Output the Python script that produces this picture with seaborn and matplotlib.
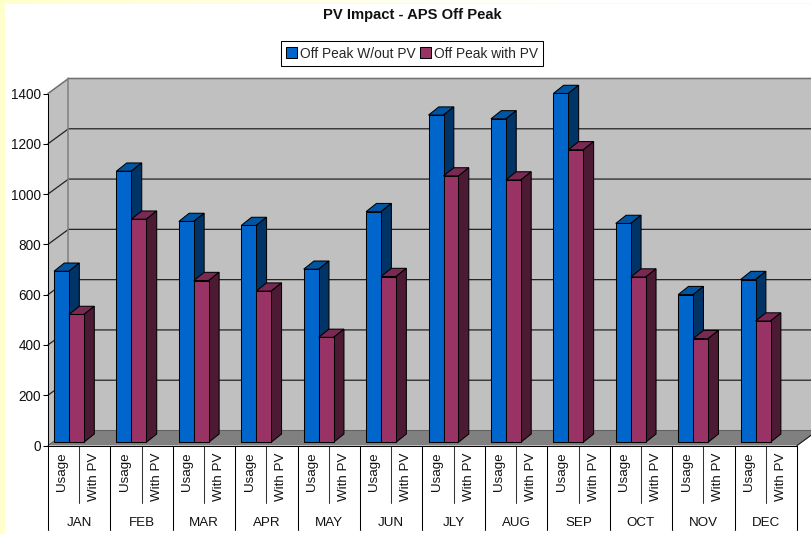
import numpy as np
import pandas as pd
import matplotlib
matplotlib.use('Agg')
import matplotlib.pyplot as plt
import seaborn as sns
from matplotlib.patches import Rectangle

# Off peak usage by month
months = ['JAN', 'FEB', 'MAR', 'APR', 'MAY', 'JUN', 'JLY', 'AUG', 'SEP', 'OCT', 'NOV', 'DEC']
usage = [680, 1078, 878, 862, 688, 917, 1301, 1286, 1387, 870, 587, 647]
with_pv = [508, 887, 643, 601, 417, 659, 1059, 1043, 1163, 657, 412, 482]
series_names = ['Off Peak W/out PV', 'Off Peak with PV']
y_ticks = [0, 200, 400, 600, 800, 1000, 1200, 1400]

W, H = 812, 534
X0, X1, Y0, Y1 = 48.0, 797.0, 445.5, 93.5
PX = 12.0 / (X1 - X0)       # data units per pixel, x
PY = 1400.0 / (Y0 - Y1)     # data units per pixel, y
LW = 0.75                   # about one pixel

# front, top, side colours of the fake 3d bars
BLUE = ('#0066CC', '#0055A3', '#003366')
PLUM = ('#993366', '#7A2952', '#4D1A33')

sns.set_theme(style='white')
plt.rcParams['font.family'] = ['Liberation Sans', 'DejaVu Sans']

df = pd.DataFrame({
    'month': months * 2,
    'value': usage + with_pv,
    'series': [series_names[0]] * 12 + [series_names[1]] * 12,
})

fig = plt.figure(figsize=(W / 100, H / 100), dpi=100, facecolor='#FFFFCC')

# pale yellow frame on the left and along the top, fading out to the right
bg = fig.add_axes([0, 0, 1, 1], zorder=-1)
bg.axis('off')
fade = np.ones((1, 200, 3))
fade[0, :, 2] = np.clip(np.linspace(0.8, 1.08, 200), 0, 1)
bg.imshow(fade, extent=(0, W, H - 3.5, H), aspect='auto')
bg.add_patch(Rectangle((5, 0), W, H - 3.5, color='white', lw=0))
bg.add_patch(Rectangle((0, 0), 5, H, color='#FFFFCC', lw=0))
bg.set_xlim(0, W)
bg.set_ylim(0, H)

ax = fig.add_axes([X0 / W, (H - Y0) / H, (X1 - X0) / W, (Y0 - Y1) / H])
ax.patch.set_alpha(0)

sns.barplot(data=df, x='month', y='value', hue='series', order=months,
            hue_order=series_names, palette=[BLUE[0], PLUM[0]], saturation=1,
            width=0.48, gap=0, edgecolor='black', linewidth=LW, ax=ax)

ax.set_xlim(-0.5, 11.5)
ax.set_ylim(0, 1400)

# walls and floor
dx, dy = 20.5 * PX, 15 * PY
xl, xr = -0.5, 11.5
ax.fill([xl + dx, xr + dx, xr + dx, xl + dx], [dy, dy, 1400 + dy, 1400 + dy],
        color='#C0C0C0', lw=0, clip_on=False, zorder=1)
ax.fill([xl, xl + dx, xl + dx, xl], [0, dy, 1400 + dy, 1400],
        color='#C0C0C0', lw=0, clip_on=False, zorder=1)
ax.fill([xl, xl + dx, xr + dx, xr], [0, dy, dy, 0],
        color='#808080', lw=0, clip_on=False, zorder=1)
for t in y_ticks[1:-1]:
    ax.plot([xl, xl + dx, xr + dx], [t, t + dy, t + dy], color='#222222', lw=0.9,
            clip_on=False, zorder=2)
ax.plot([xl, xl + dx, xr + dx], [1400, 1400 + dy, 1400 + dy], color='#707070', lw=1.1,
        clip_on=False, zorder=2)
ax.plot([xl + dx, xl + dx], [dy, 1400 + dy], color='#808080', lw=1.1, clip_on=False, zorder=2)
ax.plot([xl, xl + dx, xr + dx, xr], [0, dy, dy, 0], color='#606060', lw=LW, clip_on=False, zorder=2)
ax.plot([xr, xr + dx], [0, dy], color='#222222', lw=LW, clip_on=False, zorder=2)

# the sides and tops of the bars, worked out from what seaborn drew
shift_x = -10.2 * PX
base = 3.3 * PY
bx, by = 10.3 * PX, 8.2 * PY
for s, container in enumerate(ax.containers):
    front, top, side = (BLUE, PLUM)[s]
    for m, bar in enumerate(container):
        bar.set_x(bar.get_x() + shift_x)
        bar.set_y(base)
        z = 10 + m * 4 + s * 2
        bar.set_zorder(z + 1)
        left, right = bar.get_x(), bar.get_x() + bar.get_width()
        low, high = base, base + bar.get_height()
        ax.fill([left, left + bx, right + bx, right], [high, high + by, high + by, high],
                facecolor=top, edgecolor='black', lw=LW, clip_on=False, zorder=z)
        ax.fill([right, right + bx, right + bx, right], [low, low + by, high + by, high],
                facecolor=side, edgecolor='black', lw=LW, clip_on=False, zorder=z)

# axes
sns.despine(ax=ax, top=True, right=True)
for name in ['left', 'bottom']:
    ax.spines[name].set_color('black')
    ax.spines[name].set_linewidth(LW)
    ax.spines[name].set_zorder(3)
ax.set_xlabel('')
ax.set_ylabel('')
ax.set_yticks(y_ticks)
ax.tick_params(axis='y', left=True, length=3.6, width=LW, color='black', pad=1.5,
               labelsize=9.8, labelcolor='#111111')

# two level category axis
ax.set_xticks(range(12))
ax.set_xticklabels(months)
ax.tick_params(axis='x', which='major', bottom=False, length=0, pad=51.5,
               labelsize=9.6, labelcolor='#111111')
minor_pos = [m + off for m in range(12) for off in (-0.27, 0.24)]
ax.set_xticks(minor_pos, minor=True)
ax.set_xticklabels(['Usage', 'With PV'] * 12, minor=True, rotation=90, va='top', ha='center')
ax.tick_params(axis='x', which='minor', bottom=False, length=0, pad=5,
               labelsize=9.6, labelcolor='#111111')

long_y = -84.5 * PY
short_y = -57 * PY
for m in range(13):
    ax.plot([m - 0.5, m - 0.5], [0, long_y], color='black', lw=LW, clip_on=False, zorder=3)
for m in range(12):
    ax.plot([m, m], [0, short_y], color='#333333', lw=LW, clip_on=False, zorder=3)

handles, labels = ax.get_legend_handles_labels()
leg = ax.legend(handles, labels, loc='center', bbox_to_anchor=(412 / W, 1 - 53.5 / H),
                bbox_transform=fig.transFigure, ncol=2, fontsize=9.9, frameon=True,
                fancybox=False, edgecolor='black', framealpha=1, handlelength=0.8,
                handleheight=0.8, handletextpad=0.2, columnspacing=0.3, borderpad=0.42,
                borderaxespad=0)
leg.get_frame().set_linewidth(LW)
leg.set_zorder(100)

fig.text(412.8 / W, 1 - 15 / H, 'PV Impact - APS Off Peak', ha='center', va='center',
         fontsize=10.6, fontweight='bold', color='#111111')

fig.savefig('out.png', dpi=100, facecolor=fig.get_facecolor())
